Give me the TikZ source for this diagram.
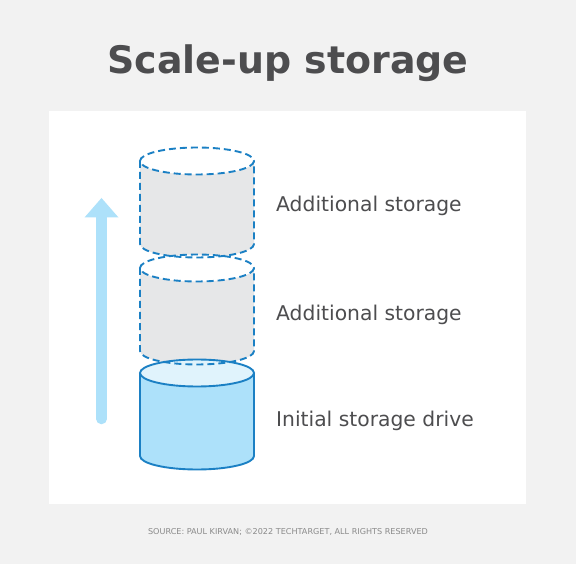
\documentclass[tikz,border=0pt]{standalone}
\usepackage{fontspec}
\setmainfont{DejaVu Sans}
\usetikzlibrary{arrows.meta}
\definecolor{bg}{HTML}{F2F2F2}
\definecolor{txt}{HTML}{4D4D4F}
\definecolor{dblue}{HTML}{1B80C4}
\definecolor{lblue}{HTML}{ADE1FA}
\definecolor{tblue}{HTML}{E0F3FC}
\definecolor{lgray}{HTML}{E6E7E8}
\definecolor{foot}{HTML}{8A8A8A}
\begin{document}
\begin{tikzpicture}[x=1pt,y=-1pt,
  lbl/.style={anchor=base west,text=txt,font=\fontsize{20.3}{20.3}\selectfont,inner sep=0pt},
  dashcyl/.style={draw=dblue,line width=1.9pt,dash pattern=on 7pt off 4pt},
  solidcyl/.style={draw=dblue,line width=1.9pt}]
\path[fill=bg] (0,0) rectangle (576,564);
\useasboundingbox (0,0) rectangle (576,564);
\fill[white] (49,111) rectangle (526,504);
\node[anchor=base,text=txt,inner sep=0pt,font=\fontsize{37.9}{38}\selectfont\bfseries] (title) at (288,74) {Scale-up storage};
% arrow
\coordinate (abot) at (101.5,419);
\coordinate (atop) at (101.5,217);
\draw[lblue,line width=10.5pt,line cap=round] (abot) -- (atop);
\fill[lblue] (84.5,217.5) -- (101.5,198) -- (118.5,217.5) -- cycle;
\def\rx{57}\def\ry{13.5}
% dashed cylinder fills
\foreach \t/\b in {161/244, 268/351}{
  \fill[lgray] (197-\rx,\t) -- (197-\rx,\b) arc[start angle=180,end angle=360,x radius=\rx,y radius=-\ry] -- (197+\rx,\t) -- cycle;
  \fill[white] (197,\t) ellipse[x radius=\rx,y radius=\ry];
}
% bottom cylinder
\fill[lblue] (197-\rx,373) -- (197-\rx,456) arc[start angle=180,end angle=360,x radius=\rx,y radius=-\ry] -- (197+\rx,373) -- cycle;
\fill[tblue] (197,373) ellipse[x radius=\rx,y radius=\ry];
\draw[solidcyl] (197,373) ellipse[x radius=\rx,y radius=\ry];
\draw[solidcyl] (197-\rx,373) -- (197-\rx,456) arc[start angle=180,end angle=360,x radius=\rx,y radius=-\ry] -- (197+\rx,373);
% dashed outlines
\foreach \t/\b in {161/244, 268/351}{
  \draw[dashcyl] (197,\t) ellipse[x radius=\rx,y radius=\ry];
  \draw[dashcyl] (197-\rx,\t) -- (197-\rx,\b) arc[start angle=180,end angle=360,x radius=\rx,y radius=-\ry] -- (197+\rx,\t);
}
\node[lbl] (l1) at (276,212) {Additional storage};
\node[lbl] (l2) at (276,320) {Additional storage};
\node[lbl] (l3) at (276,426) {Initial storage drive};
\node[anchor=base,text=foot,inner sep=0pt,font=\fontsize{8.1}{8}\selectfont] (src) at (288,534) {SOURCE: PAUL KIRVAN; ©2022 TECHTARGET, ALL RIGHTS RESERVED};
\end{tikzpicture}
\end{document}
